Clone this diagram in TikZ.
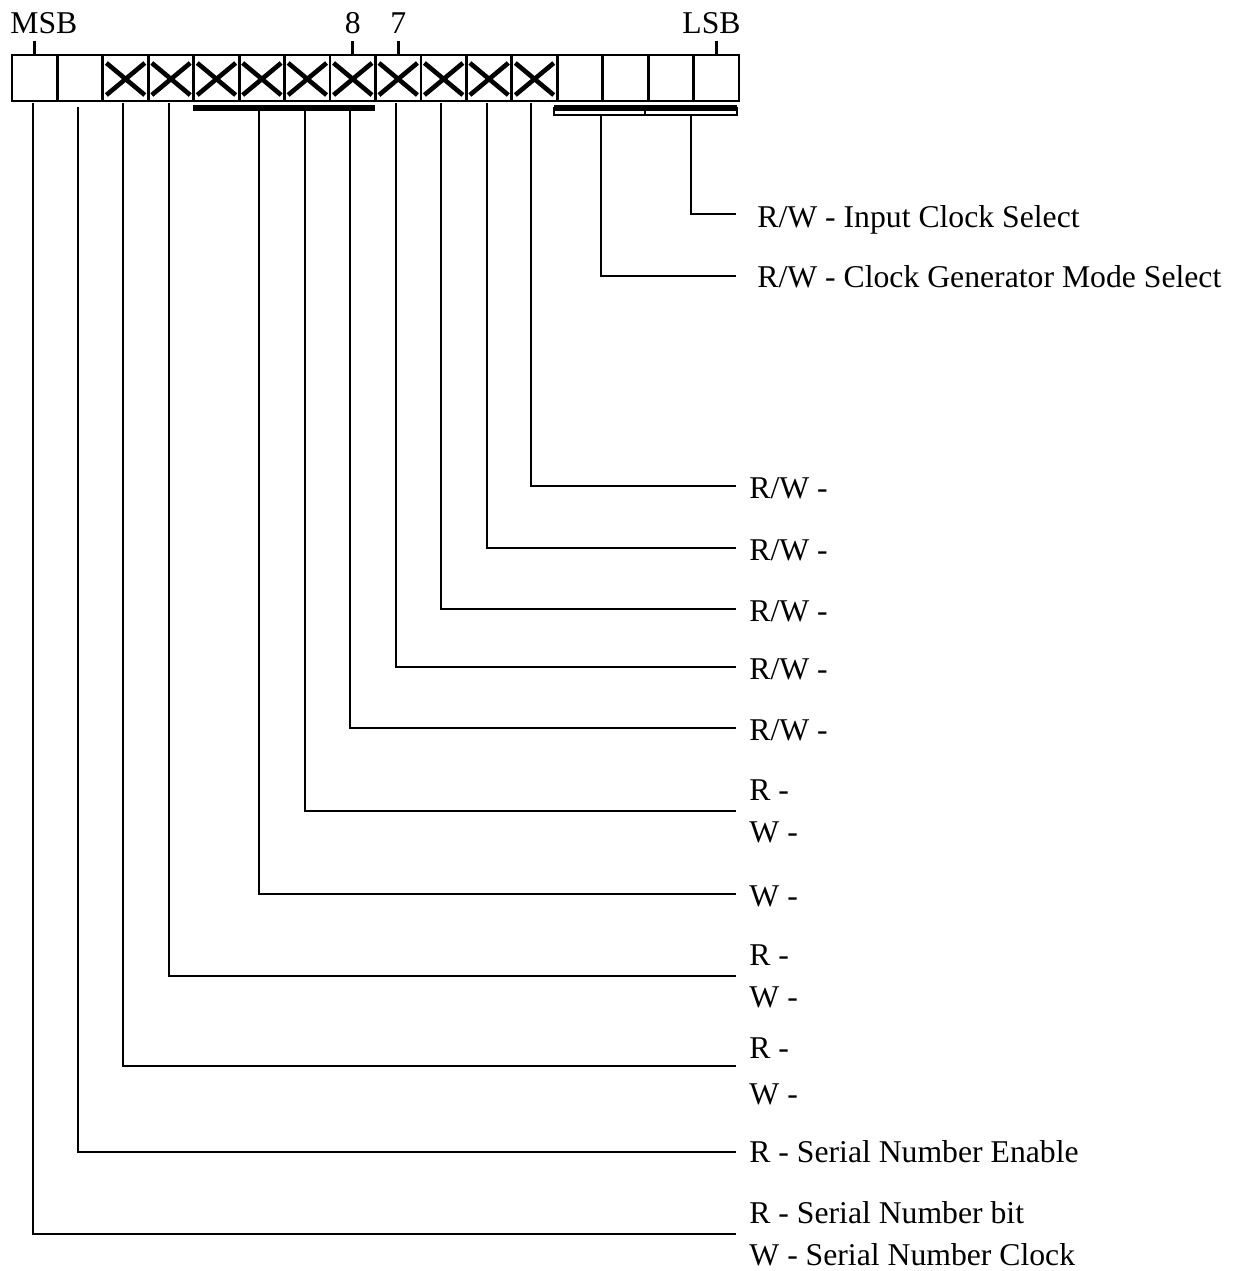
\documentclass[tikz,border=0pt]{standalone}
\usepackage{fontspec}
\setmainfont{Liberation Serif}
\begin{document}
\begin{tikzpicture}[x=0.5pt,y=-0.5pt,
  cell/.style={draw, line width=1.4pt, minimum width=22.72pt, minimum height=23pt, inner sep=0pt, outer sep=0pt},
  xmark/.style={line width=2.3pt},
  lead/.style={line width=1.35pt},
  tick/.style={line width=1.3pt},
  bar/.style={line width=3pt},
  thin/.style={line width=1pt},
  lbl/.style={anchor=base west, inner sep=0pt, font=\fontsize{15.85pt}{19pt}\selectfont},
  toplbl/.style={anchor=base, inner sep=0pt, font=\fontsize{15.85pt}{19pt}\selectfont}]
\useasboundingbox (0,0) rectangle (1236,1271);
% register cells
\foreach \i in {1,...,16}
  \node[cell] (c\i) at ({12+(\i-0.5)*45.4375},78) {};
% crosses
\foreach \i in {3,...,12} {
  \draw[xmark] ({12+(\i-1)*45.4375+3.5},63) -- ({12+\i*45.4375-3.5},95);
  \draw[xmark] ({12+(\i-1)*45.4375+3.5},95) -- ({12+\i*45.4375-3.5},63);
}
% top labels and ticks
\node[lbl] (msb) at (10,33) {MSB};
\node[toplbl] (b8) at (352.8,33) {8};
\node[toplbl] (b7) at (398.3,33) {7};
\node[anchor=base east, inner sep=0pt, font=\fontsize{15.85pt}{19pt}\selectfont] (lsb) at (741,33) {LSB};
\draw[tick] (c1.north) -- ++(0,-14);
\draw[tick] (c8.north) -- ++(0,-14);
\draw[tick] (c9.north) -- ++(0,-14);
\draw[tick] (c16.north) -- ++(0,-14);
% grouping bars
\draw[bar] (193,108) -- (375,108);
\draw[bar] (554,108) -- (737,108);
\draw[thin] (554,108) rectangle (645,115);
\draw[thin] (645,108) rectangle (737,115);
% leader lines
\foreach \k/\x/\ys/\yl in {1/33/103/1234, 2/78/107/1152, 3/123/103/1066, 4/169/103/976,
    5/259/110/894, 6/305/110/811, 7/350/110/728, 8/396/103/667, 9/441/103/609,
    10/487/103/548, 11/531/103/486, 12/601/115/276, 13/691/115/214} {
  \coordinate (s\k) at (\x,\ys);
  \coordinate (e\k) at (736,\yl);
  \draw[lead] (s\k) |- (e\k);
}
% labels
\node[lbl] (l13) at (757,227) {R/W - Input Clock Select};
\node[lbl] (l12) at (757,287) {R/W - Clock Generator Mode Select};
\node[lbl] (l11) at (749,498) {R/W -};
\node[lbl] (l10) at (749,560) {R/W -};
\node[lbl] (l9) at (749,621) {R/W -};
\node[lbl] (l8) at (749,679) {R/W -};
\node[lbl] (l7) at (749,740) {R/W -};
\node[lbl] (l6r) at (749,800) {R -};
\node[lbl] (l6w) at (749,842) {W -};
\node[lbl] (l5) at (749,906) {W -};
\node[lbl] (l4r) at (749,965) {R -};
\node[lbl] (l4w) at (749,1007) {W -};
\node[lbl] (l3r) at (749,1058) {R -};
\node[lbl] (l3w) at (749,1104) {W -};
\node[lbl] (l2) at (749,1162) {R - Serial Number Enable};
\node[lbl] (l1r) at (749,1223) {R - Serial Number bit};
\node[lbl] (l1w) at (749,1265) {W - Serial Number Clock};
\end{tikzpicture}
\end{document}
